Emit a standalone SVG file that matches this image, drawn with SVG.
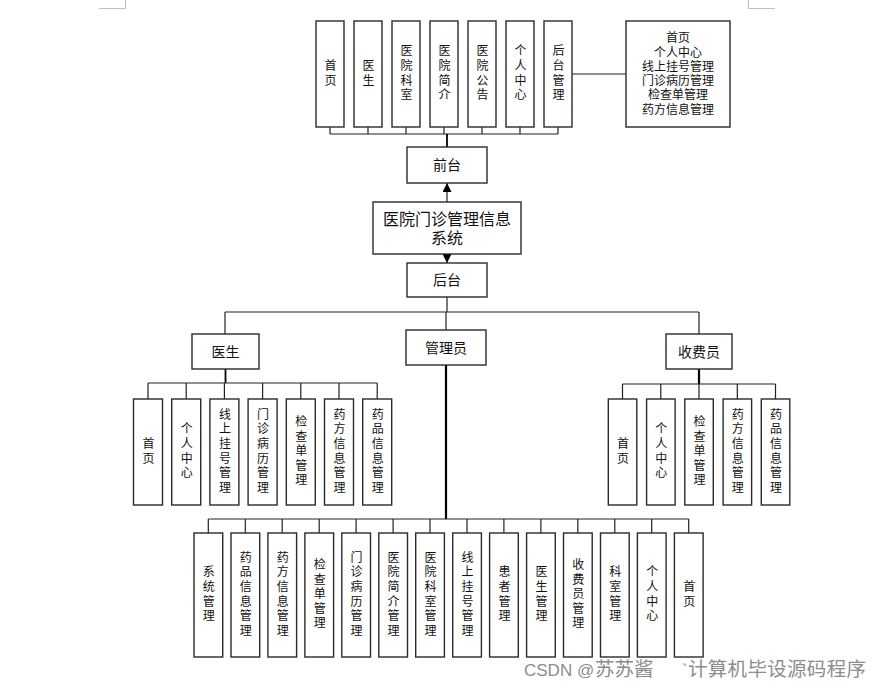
<svg xmlns="http://www.w3.org/2000/svg" width="882" height="688" viewBox="0 0 882 688">
<style>
  .box { fill: #ffffff; stroke: #2a2a2a; stroke-width: 1.4; }
  .ln { fill: none; stroke: #222; stroke-width: 1.2; }
  .thick { fill: none; stroke: #000; stroke-width: 2.2; }
  .corner { fill: none; stroke: #c0c0c0; stroke-width: 1; }
  text { font-family: "Liberation Sans", "Noto Sans CJK SC", sans-serif; fill: #111; }
  .h { font-size: 14px; text-anchor: middle; dominant-baseline: central; }
  .big { font-size: 16px; text-anchor: middle; dominant-baseline: central; }
  .s { font-size: 12px; text-anchor: middle; dominant-baseline: central; }
  .v { font-size: 12px; writing-mode: vertical-rl; text-anchor: middle; letter-spacing: 2.6px; transform: translateX(-1px); }
  .wm { font-family: "Liberation Sans", "Noto Sans CJK SC", sans-serif; font-size: 17px; fill: #8c8c8c; }
  .wmc { font-size: 19.5px; }
</style>
<defs>
  <marker id="arr" viewBox="0 0 10 10" refX="10" refY="5" markerWidth="9" markerHeight="9" markerUnits="userSpaceOnUse" orient="auto">
    <path d="M0,0 L10,5 L0,10 Z" fill="#000"/>
  </marker>
</defs>
<rect width="882" height="688" fill="#ffffff"/>
<g id="corners">
  <path class="corner" d="M99,8.5 H125.5 V0"/>
  <path class="corner" d="M748.5,0 V8.5 H775"/>
</g>

<g id="connectors">
  <!-- top front-end children -->
  <path class="ln" d="M330,127 V134 M368,127 V134 M406,127 V134 M444,127 V134 M482,127 V134 M520,127 V134 M558,127 V134 M330,134 H558"/>
  <path class="thick" d="M447,134 V147" style="stroke-width:1.8"/>
  <path class="ln" d="M572,74 H626"/>
  <!-- main arrows -->
  <path class="ln" d="M447,202 V183" marker-end="url(#arr)"/>
  <path class="ln" d="M447,254 V263" marker-end="url(#arr)"/>
  <!-- back-end bus -->
  <path class="ln" d="M447,297 V312 M225,312 H699 M225,312 V334 M446,312 V330 M699,312 V334"/>
  <!-- doctor -->
  <path class="thick" d="M225.5,369 V383" style="stroke-width:1.8"/>
  <path class="ln" d="M148,383 H377.2 M148,383 V399 M186.2,383 V399 M224.4,383 V399 M262.6,383 V399 M300.8,383 V399 M339,383 V399 M377.2,383 V399"/>
  <!-- cashier -->
  <path class="thick" d="M699,369 V384"/>
  <path class="ln" d="M622.5,384 H775.5 M622.5,384 V399 M660.8,384 V399 M699,384 V399 M737.3,384 V399 M775.5,384 V399"/>
  <!-- admin -->
  <path class="thick" d="M446,365 V519"/>
  <path class="ln" d="M208.3,519 H688.7 M208.3,519 V533 M245.3,519 V533 M282.2,519 V533 M319.2,519 V533 M356.1,519 V533 M393.1,519 V533 M430,519 V533 M467,519 V533 M503.9,519 V533 M540.9,519 V533 M577.8,519 V533 M614.8,519 V533 M651.7,519 V533 M688.7,519 V533"/>
</g>

<!-- top row (front-end pages) -->
<g id="top-shouye"><rect class="box" x="316" y="21" width="28" height="106"/><text class="v" x="330" y="74">首页</text></g>
<g id="top-yisheng"><rect class="box" x="354" y="21" width="28" height="106"/><text class="v" x="368" y="74">医生</text></g>
<g id="top-keshi"><rect class="box" x="392" y="21" width="28" height="106"/><text class="v" x="406" y="74">医院科室</text></g>
<g id="top-jianjie"><rect class="box" x="430" y="21" width="28" height="106"/><text class="v" x="444" y="74">医院简介</text></g>
<g id="top-gonggao"><rect class="box" x="468" y="21" width="28" height="106"/><text class="v" x="482" y="74">医院公告</text></g>
<g id="top-geren"><rect class="box" x="506" y="21" width="28" height="106"/><text class="v" x="520" y="74">个人中心</text></g>
<g id="top-houtai"><rect class="box" x="544" y="21" width="28" height="106"/><text class="v" x="558" y="74">后台管理</text></g>
<g id="top-houtai-list">
  <rect class="box" x="626" y="21" width="104" height="106"/>
  <text class="s" x="678" y="38">首页</text>
  <text class="s" x="678" y="52.5">个人中心</text>
  <text class="s" x="678" y="66.8">线上挂号管理</text>
  <text class="s" x="678" y="81">门诊病历管理</text>
  <text class="s" x="678" y="95.3">检查单管理</text>
  <text class="s" x="678" y="109.5">药方信息管理</text>
</g>

<g id="qiantai"><rect class="box" x="407" y="147" width="80" height="36"/><text class="h" x="447" y="165">前台</text></g>
<g id="system"><rect class="box" x="373" y="202" width="148" height="52"/><text class="big" x="447" y="219">医院门诊管理信息</text><text class="big" x="447" y="238">系统</text></g>
<g id="houtai"><rect class="box" x="407" y="263" width="80" height="34"/><text class="h" x="447" y="280">后台</text></g>

<g id="doctor"><rect class="box" x="192" y="334" width="67" height="35"/><text class="h" x="225.5" y="351.5">医生</text></g>
<g id="admin"><rect class="box" x="406" y="330" width="80" height="35"/><text class="h" x="446" y="347.5">管理员</text></g>
<g id="cashier"><rect class="box" x="666" y="334" width="66" height="35"/><text class="h" x="699" y="351.5">收费员</text></g>

<!-- doctor children -->
<g id="doc-1"><rect class="box" x="133.5" y="399" width="29" height="106"/><text class="v" x="148" y="452">首页</text></g>
<g id="doc-2"><rect class="box" x="171.7" y="399" width="29" height="106"/><text class="v" x="186.2" y="452">个人中心</text></g>
<g id="doc-3"><rect class="box" x="209.9" y="399" width="29" height="106"/><text class="v" x="224.4" y="452">线上挂号管理</text></g>
<g id="doc-4"><rect class="box" x="248.1" y="399" width="29" height="106"/><text class="v" x="262.6" y="452">门诊病历管理</text></g>
<g id="doc-5"><rect class="box" x="286.3" y="399" width="29" height="106"/><text class="v" x="300.8" y="452">检查单管理</text></g>
<g id="doc-6"><rect class="box" x="324.5" y="399" width="29" height="106"/><text class="v" x="339" y="452">药方信息管理</text></g>
<g id="doc-7"><rect class="box" x="362.7" y="399" width="29" height="106"/><text class="v" x="377.2" y="452">药品信息管理</text></g>

<!-- cashier children -->
<g id="cash-1"><rect class="box" x="608.3" y="399" width="28.5" height="106"/><text class="v" x="622.5" y="452">首页</text></g>
<g id="cash-2"><rect class="box" x="646.6" y="399" width="28.5" height="106"/><text class="v" x="660.8" y="452">个人中心</text></g>
<g id="cash-3"><rect class="box" x="684.8" y="399" width="28.5" height="106"/><text class="v" x="699" y="452">检查单管理</text></g>
<g id="cash-4"><rect class="box" x="723.1" y="399" width="28.5" height="106"/><text class="v" x="737.3" y="452">药方信息管理</text></g>
<g id="cash-5"><rect class="box" x="761.3" y="399" width="28.5" height="106"/><text class="v" x="775.5" y="452">药品信息管理</text></g>

<!-- admin children -->
<g id="adm-1"><rect class="box" x="194" y="533" width="28.7" height="124"/><text class="v" x="208.3" y="595">系统管理</text></g>
<g id="adm-2"><rect class="box" x="231" y="533" width="28.7" height="124"/><text class="v" x="245.3" y="595">药品信息管理</text></g>
<g id="adm-3"><rect class="box" x="267.9" y="533" width="28.7" height="124"/><text class="v" x="282.2" y="595">药方信息管理</text></g>
<g id="adm-4"><rect class="box" x="304.9" y="533" width="28.7" height="124"/><text class="v" x="319.2" y="595">检查单管理</text></g>
<g id="adm-5"><rect class="box" x="341.8" y="533" width="28.7" height="124"/><text class="v" x="356.1" y="595">门诊病历管理</text></g>
<g id="adm-6"><rect class="box" x="378.8" y="533" width="28.7" height="124"/><text class="v" x="393.1" y="595">医院简介管理</text></g>
<g id="adm-7"><rect class="box" x="415.7" y="533" width="28.7" height="124"/><text class="v" x="430" y="595">医院科室管理</text></g>
<g id="adm-8"><rect class="box" x="452.7" y="533" width="28.7" height="124"/><text class="v" x="467" y="595">线上挂号管理</text></g>
<g id="adm-9"><rect class="box" x="489.6" y="533" width="28.7" height="124"/><text class="v" x="503.9" y="595">患者管理</text></g>
<g id="adm-10"><rect class="box" x="526.6" y="533" width="28.7" height="124"/><text class="v" x="540.9" y="595">医生管理</text></g>
<g id="adm-11"><rect class="box" x="563.5" y="533" width="28.7" height="124"/><text class="v" x="577.8" y="595">收费员管理</text></g>
<g id="adm-12"><rect class="box" x="600.5" y="533" width="28.7" height="124"/><text class="v" x="614.8" y="595">科室管理</text></g>
<g id="adm-13"><rect class="box" x="637.4" y="533" width="28.7" height="124"/><text class="v" x="651.7" y="595">个人中心</text></g>
<g id="adm-14"><rect class="box" x="674.4" y="533" width="28.7" height="124"/><text class="v" x="688.7" y="595">首页</text></g>

<g id="watermark">
  <text class="wm" x="524" y="676">CSDN @<tspan class="wmc" x="595">苏苏酱</tspan></text>
  <text class="wm" x="682" y="676">`<tspan class="wmc" x="688" textLength="178" lengthAdjust="spacing">计算机毕设源码程序</tspan></text>
</g>
</svg>
